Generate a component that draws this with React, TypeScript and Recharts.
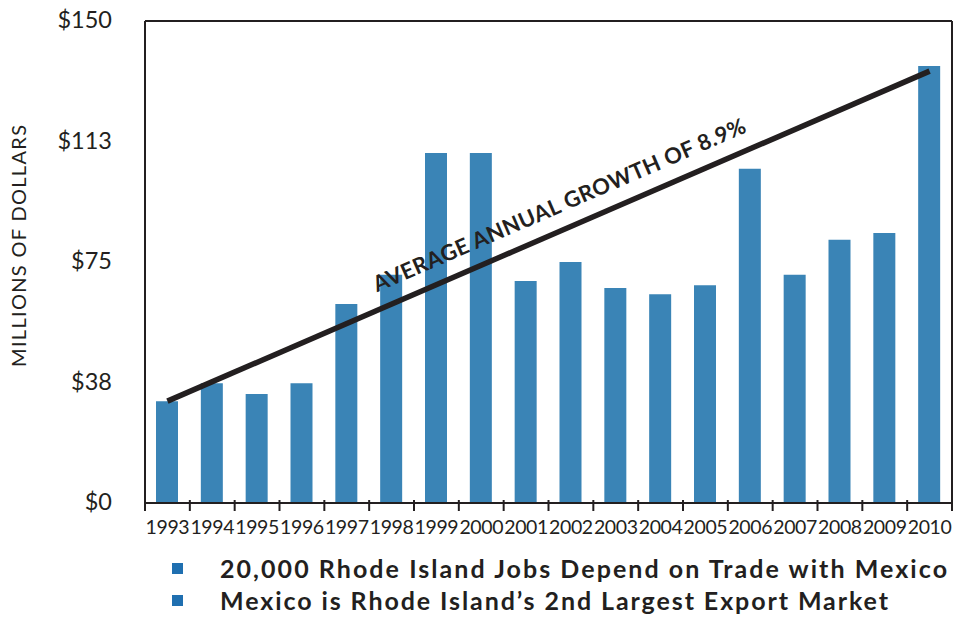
import React from 'react';
import {
  ComposedChart,
  Bar,
  Line,
  XAxis,
  YAxis,
  CartesianGrid,
  ReferenceDot,
  ReferenceLine,
  Legend,
} from 'recharts';

const years = [
  '1993', '1994', '1995', '1996', '1997', '1998', '1999', '2000', '2001',
  '2002', '2003', '2004', '2005', '2006', '2007', '2008', '2009', '2010',
];
const exportValues = [
  31.7, 37.3, 33.9, 37.3, 61.9, 71.0, 108.9, 108.9, 69.1,
  75.0, 66.9, 65.0, 67.8, 104.0, 71.0, 81.9, 84.0, 136.0,
];
const trendStart = 31.7;
const trendEnd = 134.4;
const yTicks = [0, 37.5, 75, 112.5, 150];
const yTickLabels = ['$0', '$38', '$75', '$113', '$150'];
const notes = [
  '20,000 Rhode Island Jobs Depend on Trade with Mexico',
  'Mexico is Rhode Island\u2019s 2nd Largest Export Market',
];
const trendLabel = 'AVERAGE ANNUAL GROWTH OF 8.9%';
const trendLabelYear = '2002';
const trendLabelValue = 93.0;
const yAxisTitle = 'MILLIONS OF DOLLARS';

const data = years.map((year, i) => ({
  year,
  value: exportValues[i],
  trend: i === 0 ? trendStart : i === years.length - 1 ? trendEnd : null,
}));

const FONT = 'Lato, "Noto Sans", sans-serif';
const INK = '#231f20';
const BAR = '#3a84b6';
const MARK = '#1f6fb0';

const W = 954;
const H = 620;
const LEFT = 145;
const RIGHT_W = 2;
const BAND = (W - LEFT - RIGHT_W) / years.length;

const XTick = (props: any) => {
  const { x, y, payload, index } = props;
  const half = BAND / 2;
  const isLast = index === years.length - 1;
  return (
    <g>
      <line x1={x - half} x2={x - half} y1={y - 3} y2={y + 8} stroke={INK} strokeWidth={2} />
      {isLast && (
        <line x1={x + half} x2={x + half} y1={y - 3} y2={y + 8} stroke={INK} strokeWidth={2} />
      )}
      <text
        x={x}
        y={y + 23}
        textAnchor="middle"
        dominantBaseline="central"
        fontSize={19.5}
        fontFamily={FONT}
        fill={INK}
        letterSpacing={-0.4}
      >
        {payload.value}
      </text>
    </g>
  );
};

const YTick = (props: any) => {
  const { y, payload } = props;
  const idx = yTicks.indexOf(payload.value);
  return (
    <text
      x={112}
      y={y - 2}
      textAnchor="end"
      dominantBaseline="central"
      fontSize={23.5}
      fontFamily={FONT}
      fill={INK}
    >
      {yTickLabels[idx]}
    </text>
  );
};

const YTitle = () => {
  const cx = 18;
  const cy = 246;
  return (
    <text
      x={cx}
      y={cy}
      transform={`rotate(-90, ${cx}, ${cy})`}
      textAnchor="middle"
      dominantBaseline="central"
      fontSize={20}
      fontFamily={FONT}
      fill={INK}
      textLength={242}
      lengthAdjust="spacing"
    >
      {yAxisTitle}
    </text>
  );
};

const TrendText = (props: any) => {
  const { cx, cy } = props;
  const tx = cx - 12;
  return (
    <text
      x={tx}
      y={cy}
      transform={`rotate(-23.4, ${tx}, ${cy})`}
      textAnchor="middle"
      dominantBaseline="central"
      fontSize={22}
      fontWeight="bold"
      fontFamily={FONT}
      fill={INK}
      textLength={404}
      lengthAdjust="spacing"
    >
      {trendLabel}
    </text>
  );
};

const Notes = () => (
  <svg width={W} height={64} style={{ display: 'block' }}>
    {notes.map((n, i) => (
      <g key={n}>
        <rect x={172} y={11 + i * 32} width={11} height={11} fill={MARK} />
        <text
          x={220}
          y={25.5 + i * 32}
          fontSize={25}
          fontWeight="bold"
          fontFamily={FONT}
          fill={INK}
          textLength={i === 0 ? 727 : 668}
          lengthAdjust="spacing"
        >
          {n}
        </text>
      </g>
    ))}
  </svg>
);

export default function App() {
  return (
    <div style={{ position: 'absolute', left: 0, top: 0, width: W, height: H, background: '#fff' }}>
      <ComposedChart
        width={W}
        height={H}
        data={data}
        margin={{ top: 21, right: 0, bottom: 87, left: 0 }}
      >
        <CartesianGrid horizontal vertical={false} stroke="#bdbdbd" strokeWidth={2} />
        <XAxis
          dataKey="year"
          height={30}
          tickLine={false}
          tickSize={0}
          tickMargin={0}
          axisLine={{ stroke: INK, strokeWidth: 2 }}
          tick={<XTick />}
          interval={0}
        />
        <YAxis
          yAxisId="left"
          width={LEFT}
          domain={[0, 150]}
          ticks={yTicks}
          tickLine={false}
          tickSize={0}
          axisLine={{ stroke: INK, strokeWidth: 2 }}
          tick={<YTick />}
          label={{ content: <YTitle /> }}
        />
        <YAxis
          yAxisId="right"
          orientation="right"
          width={RIGHT_W}
          domain={[0, 150]}
          tick={false}
          tickLine={false}
          axisLine={{ stroke: INK, strokeWidth: 2 }}
        />
        <ReferenceLine yAxisId="left" y={150} stroke={INK} strokeWidth={2} />
        <Bar yAxisId="left" dataKey="value" fill={BAR} barSize={22} isAnimationActive={false} />
        <Line
          yAxisId="left"
          dataKey="trend"
          stroke={INK}
          strokeWidth={5.5}
          dot={false}
          connectNulls
          isAnimationActive={false}
        />
        <ReferenceDot
          yAxisId="left"
          x={trendLabelYear}
          y={trendLabelValue}
          r={0}
          shape={<TrendText />}
        />
        <Legend
          layout="vertical"
          align="center"
          verticalAlign="middle"
          content={<Notes />}
          wrapperStyle={{ position: 'absolute', top: 552, left: 0, width: W, height: 64 }}
        />
      </ComposedChart>
    </div>
  );
}
